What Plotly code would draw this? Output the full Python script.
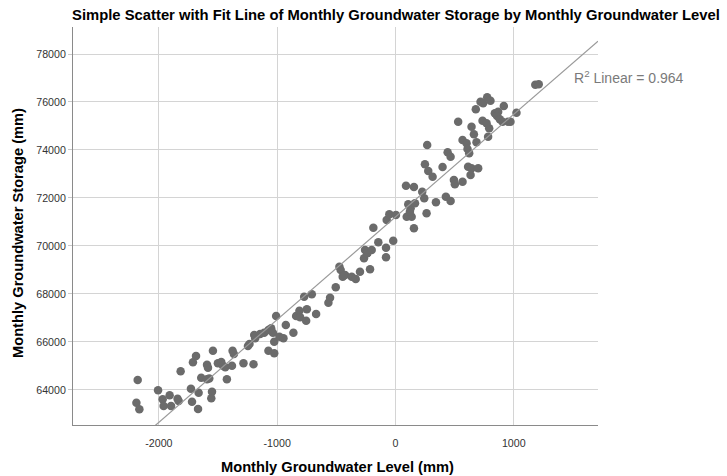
import numpy as np
import plotly.graph_objects as go

# Monthly Groundwater Level (mm)
gw_level = [
    -2179, -2190, -2165, -2007, -1968, -1960, -1909, -1897, -1842, -1833,
    -1816, -1729, -1720, -1669, -1664, -1712, -1686, -1642, -1593, -1585,
    -1593, -1574, -1551, -1557, -1543, -1501, -1473, -1458, -1439, -1425,
    -1382, -1377, -1366, -1285, -1247, -1234, -1200, -1194, -1186, -1144,
    -1110, -1074, -1051, -1036, -1009, -1025, -1074, -1025, -981, -947,
    -927, -863, -840, -812, -806, -749, -755, -671, -772, -707,
    -567, -553, -505, -474, -463, -446, -426, -370, -336, -300,
    -266, -257, -238, -215, -201, -187, -145, -80, -80, -19,
    -74, -52, 4, 108, 128, 95, 137, 156, 89, 156,
    165, 122, 226, 243, 263, 268, 249, 277, 314, 342,
    398, 426, 466, 441, 466, 494, 502, 567, 567, 601,
    609, 623, 614, 643, 635, 699, 685, 663, 783, 792,
    643, 530, 679, 719, 741, 775, 803, 736, 770, 840,
    868, 859, 882, 905, 916, 952, 972, 1023, 1182, 1211,
]

# Monthly Groundwater Storage (mm)
gw_storage = [
    64416, 63470, 63195, 63986, 63611, 63332, 63778, 63332, 63636, 63541,
    64778, 64053, 63511, 63207, 63886, 65153, 65416, 64511, 65053, 64928,
    64445, 64480, 63928, 63653, 65637, 65112, 65166, 65012, 64945, 64445,
    65012, 65637, 65500, 65112, 65832, 65916, 65070, 66291, 66153, 66332,
    66387, 66499, 66570, 66387, 67082, 66012, 65637, 65528, 66220, 66153,
    66707, 66387, 67082, 67303, 67028, 67362, 66887, 67166, 67887, 67987,
    67637, 67845, 68278, 69137, 68999, 68720, 68791, 68720, 68624, 68929,
    69487, 69833, 69695, 69029, 69833, 70762, 70154, 69929, 69529, 70220,
    71083, 71320, 71291, 71737, 71570, 71220, 71220, 70737, 72512, 72458,
    71779, 71429, 72262, 71987, 71362, 74208, 73404, 73125, 72887, 71820,
    73291, 72054, 71875, 73904, 73721, 72750, 72570, 72679, 74416, 74279,
    74041, 73862, 73304, 73237, 72958, 73237, 74321, 74654, 74554, 74904,
    74971, 75179, 75696, 76012, 75946, 76196, 76054, 75221, 75112, 75529,
    75596, 75416, 75279, 75179, 75833, 75179, 75179, 75554, 76721, 76737,
]

x_ticks = [-2000, -1000, 0, 1000]
y_ticks = [64000, 66000, 68000, 70000, 72000, 74000, 76000, 78000]
r2_text = "R<sup>2</sup> Linear = 0.964"

X_RANGE = [-2726, 1712]
Y_RANGE = [62540, 79125]

slope, intercept = np.polyfit(gw_level, gw_storage, 1)
fit_x = np.array(X_RANGE, dtype=float)
fit_y = slope * fit_x + intercept

W, H = 727, 476
ML, MR, MT, MB = 73, 129, 27, 51
PW, PH = W - ML - MR, H - MT - MB

FONT = "Liberation Sans, Arial, sans-serif"

fig = go.Figure()
fig.add_trace(go.Scatter(
    x=gw_level, y=gw_storage, mode="markers",
    marker=dict(color="#6b6b6b", size=8.5, line=dict(width=0)),
    showlegend=False, hoverinfo="x+y",
))
fig.add_trace(go.Scatter(
    x=fit_x, y=fit_y, mode="lines",
    line=dict(color="#9a9a9a", width=1.2),
    showlegend=False, hoverinfo="skip",
))

fig.update_layout(
    width=W, height=H,
    margin=dict(l=ML, r=MR, t=MT, b=MB, pad=0),
    paper_bgcolor="white", plot_bgcolor="white",
    font=dict(family=FONT, color="#222"),
    title=dict(
        text="<b>Simple Scatter with Fit Line of Monthly Groundwater Storage by Monthly Groundwater Level</b>",
        font=dict(size=14.8, color="#000", family=FONT),
        x=396 / W, xref="container", xanchor="center",
        y=1 - 15 / H, yref="container", yanchor="middle",
    ),
    xaxis=dict(
        range=X_RANGE, tickvals=x_ticks, ticktext=[str(v) for v in x_ticks],
        showgrid=True, gridcolor="#d4d4d4", gridwidth=1.3,
        zeroline=False, showline=True, linecolor="#8a8a8a", linewidth=1,
        ticks="", tickfont=dict(size=10.67, color="#333", family=FONT),
        ticklabelstandoff=8,
    ),
    yaxis=dict(
        range=Y_RANGE, tickvals=y_ticks, tickformat="d",
        showgrid=True, gridcolor="#d4d4d4", gridwidth=1.3,
        zeroline=False, showline=True, linecolor="#8a8a8a", linewidth=1,
        ticks="outside", ticklen=4, tickcolor="#c8c8c8",
        tickfont=dict(size=10.67, color="#333", family=FONT),
    ),
    annotations=[
        dict(text="<b>Monthly Groundwater Level (mm)</b>", xref="paper", yref="paper",
             x=(337 - ML) / PW, y=-(467 - (H - MB)) / PH, xanchor="center", yanchor="middle",
             showarrow=False, font=dict(size=14.67, color="#000", family=FONT)),
        dict(text="<b>Monthly Groundwater Storage (mm)</b>", xref="paper", yref="paper",
             x=(18 - ML) / PW, y=(H - MB - 233) / PH, xanchor="center", yanchor="middle",
             textangle=-90, showarrow=False, font=dict(size=14.67, color="#000", family=FONT)),
        dict(text=r2_text, xref="paper", yref="paper",
             x=(572 - ML) / PW, y=(H - MB - 77) / PH, xanchor="left", yanchor="middle",
             showarrow=False, font=dict(size=14, color="#7a7a7a", family=FONT)),
    ],
)

fig.write_html(
    "out.html",
    config={"displayModeBar": False},
    post_script="document.body.style.margin='0';document.body.style.overflow='hidden';",
)
